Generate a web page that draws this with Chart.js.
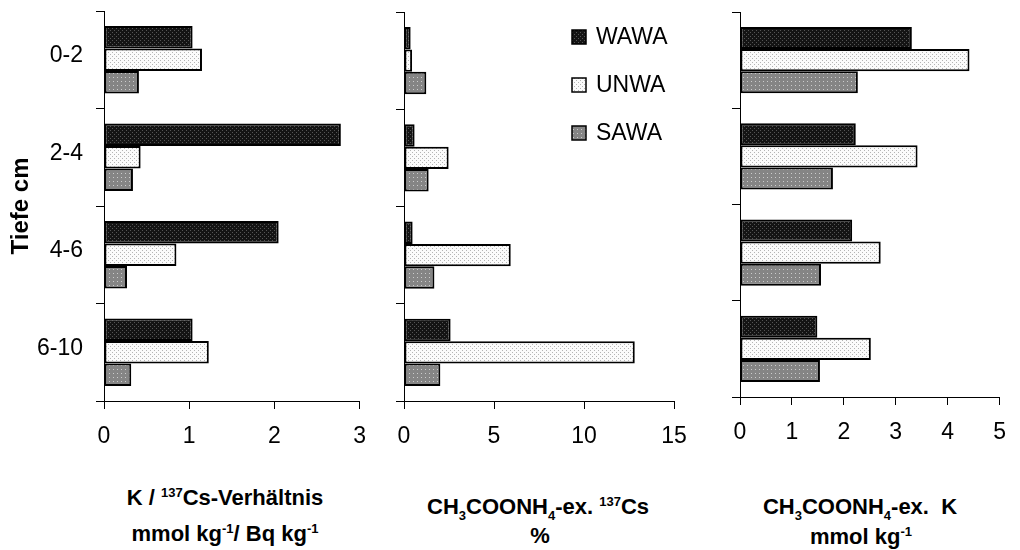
<!DOCTYPE html>
<html>
<head>
<meta charset="utf-8">
<script src="https://cdn.jsdelivr.net/npm/chart.js@4.4.1/dist/chart.umd.min.js"></script>
<style>
  body { margin: 0; background: #fff; width: 1020px; height: 550px; position: relative; overflow: hidden;
         font-family: "Liberation Sans", Arial, sans-serif; }
  canvas { position: absolute; top: 0; }
  .ttl { position: absolute; font-weight: bold; font-size: 22px; line-height: 22px; white-space: nowrap;
         transform: translateX(-50%); color: #000; }
  .sup { font-size: 13px; position: relative; top: -8px; }
  .sub { font-size: 13px; position: relative; top: 6px; }
</style>
</head>
<body>
<canvas id="c1" width="380" height="450" style="left:0px"></canvas>
<canvas id="c2" width="330" height="450" style="left:380px"></canvas>
<canvas id="c3" width="310" height="450" style="left:710px"></canvas>

<div class="ttl" style="left:225px; top:487px">K / <span class="sup">137</span>Cs-Verhältnis</div>
<div class="ttl" style="left:225px; top:523px">mmol kg<span class="sup">-1</span>/ Bq kg<span class="sup">-1</span></div>
<div class="ttl" style="left:538px; top:496px">CH<span class="sub">3</span>COONH<span class="sub">4</span>-ex. <span class="sup">137</span>Cs</div>
<div class="ttl" style="left:540px; top:525px">%</div>
<div class="ttl" style="left:860px; top:496px">CH<span class="sub">3</span>COONH<span class="sub">4</span>-ex.&nbsp; K</div>
<div class="ttl" style="left:861px; top:526px">mmol kg<span class="sup">-1</span></div>

<script>
var depths = ['0-2', '2-4', '4-6', '6-10'];
var seriesNames = ['WAWA', 'UNWA', 'SAWA'];

// K / 137Cs ratio
var ratioWAWA = [1.04, 2.78, 2.05, 1.04];
var ratioUNWA = [1.15, 0.43, 0.85, 1.23];
var ratioSAWA = [0.41, 0.34, 0.27, 0.32];

// exchangeable 137Cs, %
var csWAWA = [0.37, 0.59, 0.48, 2.59];
var csUNWA = [0.45, 2.48, 5.93, 12.82];
var csSAWA = [1.24, 1.37, 1.69, 2.02];

// exchangeable K, mmol/kg
var kWAWA = [3.31, 2.23, 2.16, 1.49];
var kUNWA = [4.42, 3.42, 2.71, 2.52];
var kSAWA = [2.27, 1.79, 1.56, 1.54];

var ratioMax = 3, ratioStep = 1;
var csMax = 15, csStep = 5;
var kMax = 5, kStep = 1;

var FONT = '"Liberation Sans", Arial, sans-serif';

// dotted fills like the old spreadsheet patterns
function makePattern(base, dot, dots) {
    var tile = document.createElement('canvas');
    tile.width = 4; tile.height = 4;
    var g = tile.getContext('2d');
    g.fillStyle = base;
    g.fillRect(0, 0, 4, 4);
    g.fillStyle = dot;
    dots.forEach(function(d) { g.fillRect(d[0], d[1], 1, 1); });
    return g.createPattern(tile, 'repeat');
}

var fills = [
    makePattern('#141414', '#555555', [[0, 0], [2, 2]]),
    makePattern('#fbfbfb', '#b4b4b4', [[0, 0], [2, 2]]),
    makePattern('#858585', '#cccccc', [[1, 1]])
];

var legendPlugin = {
    id: 'sideLegend',
    afterDraw: function(chart, args, opts) {
        if (!opts.show) return;
        var ctx = chart.ctx;
        ctx.save();
        ctx.font = '23px ' + FONT;
        ctx.textBaseline = 'middle';
        chart.data.datasets.forEach(function(ds, i) {
            var y = opts.top + i * opts.gap;
            ctx.fillStyle = ds.backgroundColor;
            ctx.fillRect(opts.left, y - 7, 14, 14);
            ctx.strokeStyle = '#000';
            ctx.lineWidth = 1.5;
            ctx.strokeRect(opts.left, y - 7, 14, 14);
            ctx.fillStyle = '#000';
            ctx.fillText(ds.label, opts.left + 24, y + 1);
        });
        ctx.restore();
    }
};

function makePanel(id, values, max, step, o) {
    var datasets = values.map(function(v, i) {
        return {
            label: seriesNames[i],
            data: v,
            backgroundColor: fills[i],
            borderColor: '#000',
            borderWidth: 2,
            borderSkipped: false,
            categoryPercentage: 0.69,
            barPercentage: 1.0
        };
    });
    return new Chart(document.getElementById(id), {
        type: 'bar',
        data: { labels: depths, datasets: datasets },
        plugins: [legendPlugin],
        options: {
            indexAxis: 'y',
            responsive: false,
            animation: false,
            layout: { padding: { top: o.top, right: o.right, left: 0, bottom: 0 } },
            plugins: {
                legend: { display: false },
                tooltip: { enabled: false },
                sideLegend: o.legend || { show: false }
            },
            scales: {
                x: {
                    min: 0, max: max,
                    grid: { drawOnChartArea: false, drawTicks: true, tickLength: 8, color: '#000', lineWidth: 1 },
                    border: { display: true, color: '#000', width: 1 },
                    ticks: { stepSize: step, color: '#000', padding: 14, font: { family: FONT, size: 23 } },
                    afterFit: function(s) { s.height = 450 - o.bottom; }
                },
                y: {
                    grid: { drawOnChartArea: false, drawTicks: true, tickLength: 8, color: '#000', lineWidth: 1, offset: true },
                    border: { display: true, color: '#000', width: 1 },
                    ticks: { display: o.yLabels, color: '#000', padding: 13, labelOffset: -4,
                             font: { family: FONT, size: 23 } },
                    title: {
                        display: o.yLabels,
                        text: 'Tiefe cm',
                        color: '#000',
                        padding: { top: 7, bottom: 0 },
                        font: { family: FONT, size: 24, weight: 'bold' }
                    },
                    afterFit: function(s) {
                        s.width = o.axisX;
                        s.paddingTop = 0;
                        s.paddingBottom = 0;
                    }
                }
            }
        }
    });
}

makePanel('c1', [ratioWAWA, ratioUNWA, ratioSAWA], ratioMax, ratioStep,
    { top: 11, bottom: 401, right: 20, axisX: 104, yLabels: true });
makePanel('c2', [csWAWA, csUNWA, csSAWA], csMax, csStep,
    { top: 12, bottom: 401, right: 36, axisX: 24, yLabels: false,
      legend: { show: true, left: 192, top: 37, gap: 48 } });
makePanel('c3', [kWAWA, kUNWA, kSAWA], kMax, kStep,
    { top: 12, bottom: 397, right: 10, axisX: 30, yLabels: false });
</script>
</body>
</html>
